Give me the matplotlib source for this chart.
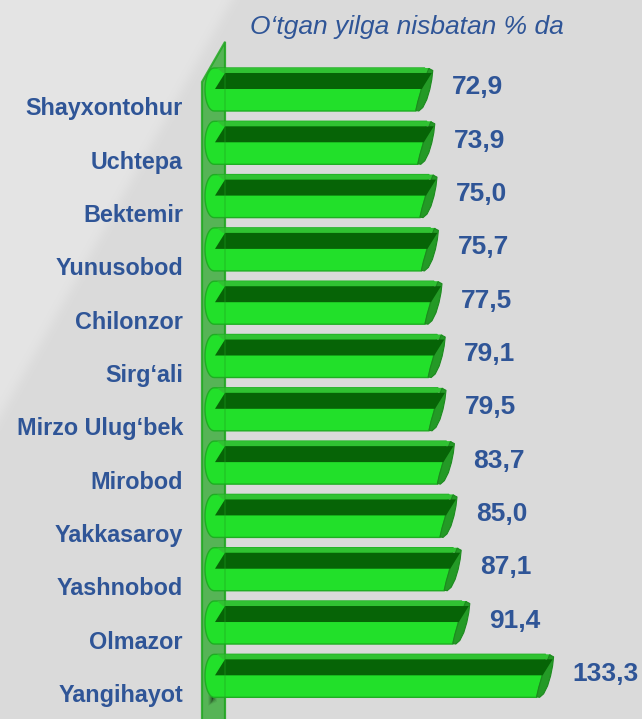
import numpy as np
import matplotlib
matplotlib.use("Agg")
import matplotlib.pyplot as plt
from matplotlib.patches import Polygon
import matplotlib.transforms as mtransforms

# --- data -------------------------------------------------------------
title = "O‘tgan yilga nisbatan % da"
districts = ["Shayxontohur", "Uchtepa", "Bektemir", "Yunusobod", "Chilonzor",
             "Sirg‘ali", "Mirzo Ulug‘bek", "Mirobod", "Yakkasaroy",
             "Yashnobod", "Olmazor", "Yangihayot"]
values = [72.9, 73.9, 75.0, 75.7, 77.5, 79.1, 79.5, 83.7, 85.0, 87.1, 91.4, 133.3]

# --- style ------------------------------------------------------------
TEXT_BLUE = "#2f5597"
FONT = "Liberation Sans"
W, H = 642, 719

fig = plt.figure(figsize=(W / 100, H / 100), dpi=100)

# soft grey backdrop, lighter in the upper-left corner
bg = fig.add_axes([0, 0, 1, 1])
yy, xx = np.mgrid[0:H, 0:W]
d = (xx / 231 + yy / 415 - 1.0) * 60
shade = 0.855 + 0.042 / (1 + np.exp(d))
bg.imshow(np.dstack([shade, shade, shade]), extent=[0, W, H, 0], aspect="auto")
bg.set_axis_off()

# plotting axes covering the whole canvas (value on x, category on y)
XMIN, XMAX = -143.5, 177.5
YTOP, YBOT = -1.679, 11.81
ax = fig.add_axes([0, 0, 1, 1])
ax.set_facecolor("none")
ax.set_xlim(XMIN, XMAX)
ax.set_ylim(YBOT, YTOP)
ax.set_axis_off()

XPX = (XMAX - XMIN) / W        # value units per pixel
YPX = (YBOT - YTOP) / H        # category units per pixel
BASE = -41.0                   # where the rods start, inside the side wall


def pts(anchor, cy, offsets):
    return [(anchor + dx * XPX, cy + dy * YPX) for dx, dy in offsets]


# side wall
wall = Polygon(pts(BASE, 0, [(-3, 660), (-3, -7.5), (20, -47.5), (20, 660)]),
               closed=True, facecolor="#3fae3f", edgecolor="#22a822",
               alpha=0.85, lw=1.6, zorder=2)
ax.add_patch(wall)

# shadow cast on the wall by the lowest rod
for k, a in enumerate(np.linspace(0.05, 0.25, 6)):
    sh = Polygon(pts(BASE, len(values) - 1,
                     [(3 + k, -20 + 2 * k), (12 - k, -10 + 2 * k), (12 - k, 26 - k), (3 + k, 30 - k)]),
                 closed=True, facecolor="black", edgecolor="none", alpha=a, zorder=2.5)
    ax.add_patch(sh)

# cylinder rods
for i, v in enumerate(values):
    t = np.linspace(np.pi / 2, 3 * np.pi / 2, 20)
    left_cap = [(9 + 9 * np.cos(a), 21.5 * np.sin(a)) for a in t]
    body = pts(BASE, i, left_cap[::-1]) + pts(v, i, [(-17, 21.5), (-12, 2), (-8, -21.5)])
    ax.add_patch(Polygon(body, closed=True, facecolor="#22e02a",
                         edgecolor="#1eae22", lw=1.0, zorder=3))
    # top rim
    rim = pts(BASE, i, [(12, -21.5)]) + pts(v, i, [(-3, -21.5), (-1, -16.5)]) \
        + pts(BASE, i, [(18, -16.5)])
    ax.add_patch(Polygon(rim, closed=True, facecolor="#30c232",
                         edgecolor="none", zorder=4))
    # end cap
    cap = pts(v, i, [(0, -19), (-1, -10), (-3, 0), (-6, 10), (-10, 18), (-14, 21.5),
                     (-17, 21), (-15, 12), (-12, 2), (-9, -8), (-4, -21)])
    ax.add_patch(Polygon(cap, closed=True, facecolor="#249a26",
                         edgecolor="#1c8a1e", lw=0.8, zorder=4))
    # dark upper band
    band = pts(BASE, i, [(20, -16.5)]) + pts(v, i, [(-1, -16.5), (-11, -0.5)]) \
        + pts(BASE, i, [(10, -0.5)])
    ax.add_patch(Polygon(band, closed=True, facecolor="#066406",
                         edgecolor="none", zorder=5))
    # value label
    ax.text(v + 19 * XPX, i - 2 * YPX, f"{v:.1f}".replace(".", ","),
            ha="left", va="center", fontsize=19, fontweight="bold",
            color=TEXT_BLUE, family=FONT, zorder=6)

# faint front edge of the wall over the rods
ax.plot([BASE + 20 * XPX] * 2, [-47.5 * YPX, YBOT], color="#1f9f1f",
        alpha=0.35, lw=1.2, zorder=6)

# category labels
lab_tr = mtransforms.blended_transform_factory(fig.transFigure, ax.transData)
for i, name in enumerate(districts):
    ax.text(183 / W, i + 19.5 * YPX, name, transform=lab_tr, ha="right",
            va="center", fontsize=16.8, fontweight="bold", color=TEXT_BLUE,
            family=FONT)

fig.text(407 / W, 1 - 27 / H, title, ha="center", va="center",
         fontsize=19, style="italic", color=TEXT_BLUE, family=FONT)

fig.savefig("out.png", dpi=100)
